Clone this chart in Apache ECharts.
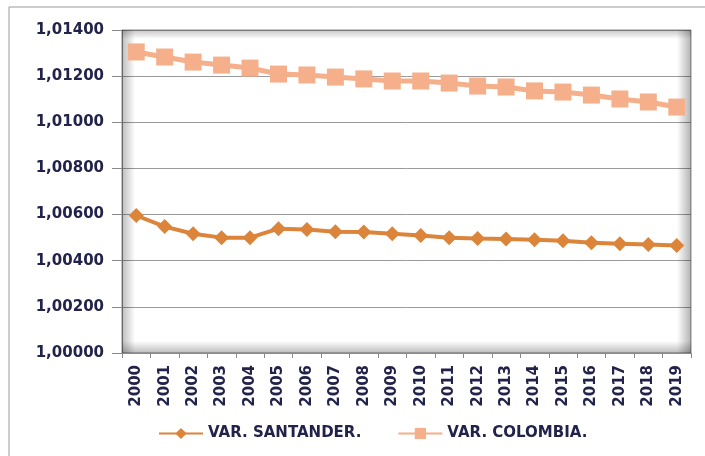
<!DOCTYPE html>
<html>
<head>
<meta charset="utf-8">
<script src="https://cdn.jsdelivr.net/npm/echarts@6/dist/echarts.min.js"></script>
<style>
  html, body { margin: 0; padding: 0; background: #fff; }
  #main { width: 705px; height: 456px; }
</style>
</head>
<body>
<div id="main"></div>
<script>
var years = ['2000','2001','2002','2003','2004','2005','2006','2007','2008','2009',
             '2010','2011','2012','2013','2014','2015','2016','2017','2018','2019'];
var santander = [1.00596,1.00548,1.00517,1.00500,1.00500,1.00539,1.00535,1.00526,1.00524,1.00517,
                 1.00509,1.00500,1.00496,1.00494,1.00491,1.00487,1.00478,1.00474,1.00470,1.00466];
var colombia = [1.01305,1.01283,1.01261,1.01248,1.01235,1.01209,1.01205,1.01196,1.01188,1.01179,
                1.01179,1.01170,1.01157,1.01153,1.01136,1.01131,1.01118,1.01101,1.01088,1.01066];
var yMin = 1.0, yMax = 1.014, yStep = 0.002;

var txt = '#22224a';
var chartDom = document.getElementById('main');
var myChart = echarts.init(chartDom);

var option = {
  animation: false,
  grid: {
    left: 122, right: 14, top: 30, bottom: 103,
    show: true, backgroundColor: '#fff', borderColor: '#8a8a8a', borderWidth: 1
  },
  legend: {
    left: 153, top: 421,
    itemWidth: 44, itemHeight: 14, itemGap: 36,
    textStyle: { fontFamily: 'DejaVu Sans', fontWeight: 'bold', fontSize: 15, color: txt },
    data: ['VAR. SANTANDER.', 'VAR. COLOMBIA.']
  },
  xAxis: {
    type: 'category',
    data: years,
    boundaryGap: true,
    axisLine: { lineStyle: { color: '#8a8a8a' } },
    axisTick: { show: true, alignWithLabel: false, length: 5, lineStyle: { color: '#8a8a8a' } },
    axisLabel: {
      rotate: 90, margin: 12, interval: 0,
      fontFamily: 'DejaVu Sans', fontWeight: 'bold', fontSize: 15, color: txt
    }
  },
  yAxis: {
    type: 'value',
    min: yMin, max: yMax, interval: yStep,
    axisLine: { show: true, lineStyle: { color: '#8a8a8a' } },
    axisTick: { show: true, length: 10, lineStyle: { color: '#8a8a8a' } },
    splitLine: { lineStyle: { color: '#9a9a9a', width: 1 } },
    axisLabel: {
      margin: 18,
      fontFamily: 'DejaVu Sans', fontWeight: 'bold', fontSize: 15, color: txt,
      formatter: function (v) { return v.toFixed(5).replace('.', ','); }
    }
  },
  series: [
    {
      name: 'VAR. SANTANDER.',
      type: 'line',
      data: santander,
      symbol: 'diamond', symbolSize: 15,
      lineStyle: { color: '#db843a', width: 4 },
      itemStyle: { color: '#db843a' },
      z: 3
    },
    {
      name: 'VAR. COLOMBIA.',
      type: 'line',
      data: colombia,
      symbol: 'rect', symbolSize: 17,
      lineStyle: { color: '#f5b08b', width: 5 },
      itemStyle: { color: '#f5b08b' },
      z: 3
    }
  ]
};
myChart.setOption(option);

// outer frame + soft inner shading of the plot area, placed from the grid rect
var rect = myChart.getModel().getComponent('grid').coordinateSystem.getRect();
function shade(x, y, w, h, gx, gy, gx2, gy2, a) {
  return {
    type: 'rect', silent: true, z: 1,
    shape: { x: x, y: y, width: w, height: h },
    style: {
      fill: new echarts.graphic.LinearGradient(gx, gy, gx2, gy2, [
        { offset: 0, color: 'rgba(0,0,0,' + a + ')' },
        { offset: 1, color: 'rgba(0,0,0,0)' }
      ])
    }
  };
}
myChart.setOption({
  graphic: [
    { type: 'rect', silent: true, z: 0,
      shape: { x: 9, y: 7, width: 720, height: 470 },
      style: { fill: 'none', stroke: '#9a9a9a', lineWidth: 1 } },
    shade(rect.x, rect.y, 13, rect.height, 0, 0, 1, 0, 0.26),
    shade(rect.x, rect.y, rect.width, 9, 0, 0, 0, 1, 0.22),
    shade(rect.x + rect.width - 14, rect.y, 14, rect.height, 1, 0, 0, 0, 0.3),
    shade(rect.x, rect.y + rect.height - 12, rect.width, 12, 0, 1, 0, 0, 0.26)
  ]
});
</script>
</body>
</html>
